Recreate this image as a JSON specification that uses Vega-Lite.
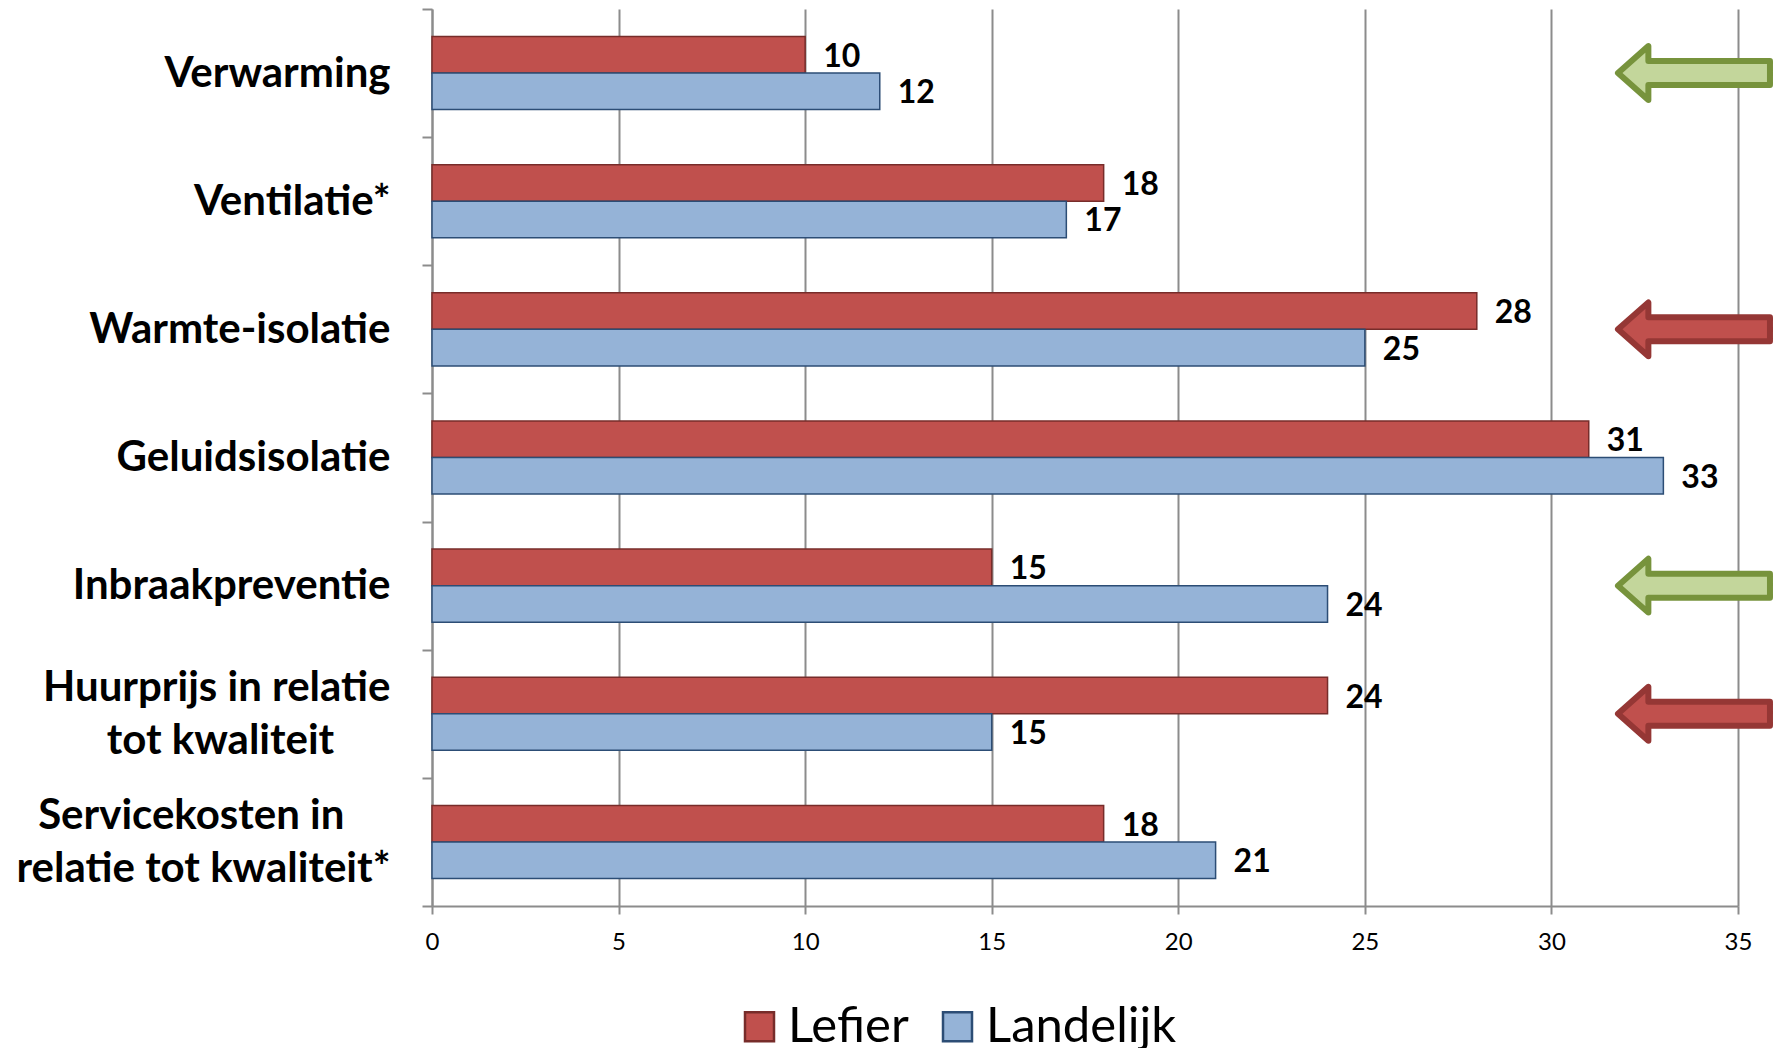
{
  "$schema": "https://vega.github.io/schema/vega-lite/v6.json",
  "autosize": "none",
  "width": 1306,
  "height": 897,
  "padding": {"left": 432, "top": 9, "right": 43, "bottom": 142},
  "background": "white",
  "datasets": {
    "bars": [
      {"thema": "Verwarming", "reeks": "Lefier", "score": 10},
      {"thema": "Verwarming", "reeks": "Landelijk", "score": 12},
      {"thema": "Ventilatie*", "reeks": "Lefier", "score": 18},
      {"thema": "Ventilatie*", "reeks": "Landelijk", "score": 17},
      {"thema": "Warmte-isolatie", "reeks": "Lefier", "score": 28},
      {"thema": "Warmte-isolatie", "reeks": "Landelijk", "score": 25},
      {"thema": "Geluidsisolatie", "reeks": "Lefier", "score": 31},
      {"thema": "Geluidsisolatie", "reeks": "Landelijk", "score": 33},
      {"thema": "Inbraakpreventie", "reeks": "Lefier", "score": 15},
      {"thema": "Inbraakpreventie", "reeks": "Landelijk", "score": 24},
      {"thema": "Huurprijs in relatie tot kwaliteit", "reeks": "Lefier", "score": 24},
      {"thema": "Huurprijs in relatie tot kwaliteit", "reeks": "Landelijk", "score": 15},
      {"thema": "Servicekosten in relatie tot kwaliteit*", "reeks": "Lefier", "score": 18},
      {"thema": "Servicekosten in relatie tot kwaliteit*", "reeks": "Landelijk", "score": 21}
    ],
    "pijlen": [
      {"thema": "Verwarming", "oordeel": "beter"},
      {"thema": "Warmte-isolatie", "oordeel": "slechter"},
      {"thema": "Inbraakpreventie", "oordeel": "beter"},
      {"thema": "Huurprijs in relatie tot kwaliteit", "oordeel": "slechter"}
    ]
  },
  "config": {
    "view": {"stroke": null},
    "font": "Lato"
  },
  "layer": [
    {
      "data": {"name": "bars"},
      "mark": {"type": "bar", "strokeWidth": 1.5},
      "encoding": {
        "y": {
          "field": "thema", "type": "nominal", "sort": null,
          "scale": {"paddingInner": 0, "paddingOuter": 0},
          "axis": {
            "title": null,
            "tickBand": "extent",
            "domainColor": "#8c8c8c", "domainWidth": 2,
            "tickColor": "#8c8c8c", "tickWidth": 2, "tickSize": 10,
            "labelFont": "Lato", "labelFontWeight": "bold", "labelFontSize": 42,
            "labelColor": "black",
            "labelLimit": 600,
            "labelLineHeight": 26.5,
            "labelBaseline": "middle",
            "labelOffset": -26.5,
            "labelAlign": "right",
            "labelPadding": 32,
            "labelExpr": "datum.value == 'Huurprijs in relatie tot kwaliteit' ? ['Huurprijs in relatie', '\u200b', 'tot kwaliteit\u00a0\u00a0\u00a0\u00a0\u00a0\u2009\u200b'] : datum.value == 'Servicekosten in relatie tot kwaliteit*' ? ['Servicekosten in\u00a0\u00a0\u00a0\u00a0\u2009\u200b', '\u200b', 'relatie tot kwaliteit*'] : ['', datum.label]"
          }
        },
        "yOffset": {
          "field": "reeks", "type": "nominal",
          "scale": {"domain": ["Lefier", "Landelijk"], "paddingInner": 0, "paddingOuter": 0.753}
        },
        "x": {
          "field": "score", "type": "quantitative",
          "scale": {"domain": [0, 35], "nice": false},
          "axis": {
            "title": null,
            "values": [0, 5, 10, 15, 20, 25, 30, 35],
            "grid": true, "gridColor": "#8c8c8c", "gridWidth": 2,
            "domainColor": "#8c8c8c", "domainWidth": 2,
            "tickColor": "#8c8c8c", "tickWidth": 2, "tickSize": 8,
            "labelFont": "Lato", "labelFontSize": 24, "labelColor": "black",
            "labelPadding": 16, "labelFlush": false
          }
        },
        "fill": {
          "field": "reeks", "type": "nominal",
          "scale": {"domain": ["Lefier", "Landelijk"], "range": ["#C0504D", "#95B3D7"]},
          "legend": {
            "title": null, "orient": "none", "direction": "horizontal",
            "legendX": 303, "legendY": 993,
            "symbolType": "square", "symbolSize": 841, "symbolStrokeWidth": 2.5,
            "labelFont": "Lato", "labelFontSize": 49, "labelColor": "black", "labelLimit": 600,
            "labelOffset": 4, "columnPadding": 24, "padding": 0
          }
        },
        "stroke": {
          "field": "reeks", "type": "nominal",
          "scale": {"domain": ["Lefier", "Landelijk"], "range": ["#772C2A", "#2C4D75"]},
          "legend": {
            "title": null, "orient": "none", "direction": "horizontal",
            "legendX": 303, "legendY": 993,
            "symbolType": "square", "symbolSize": 841, "symbolStrokeWidth": 2.5,
            "labelFont": "Lato", "labelFontSize": 49, "labelColor": "black", "labelLimit": 600,
            "labelOffset": 4, "columnPadding": 24, "padding": 0
          }
        }
      }
    },
    {
      "data": {"name": "bars"},
      "mark": {"type": "text", "align": "left", "baseline": "middle", "dx": 18, "dy": 2, "font": "Lato", "fontWeight": "bold", "fontSize": 32, "color": "black"},
      "encoding": {
        "y": {"field": "thema", "type": "nominal", "sort": null},
        "yOffset": {"field": "reeks", "type": "nominal"},
        "x": {"field": "score", "type": "quantitative"},
        "text": {"field": "score", "type": "quantitative"}
      }
    },
    {
      "data": {"name": "pijlen"},
      "transform": [{"filter": "datum.oordeel == 'beter'"}],
      "mark": {"type": "point", "filled": true, "shape": "M -1 0 L -0.6 -0.355 L -0.6 -0.158 L 1 -0.158 L 1 0.158 L -0.6 0.158 L -0.6 0.355 Z", "size": 23104, "fill": "#C3D69B", "stroke": "#77933C", "strokeWidth": 6, "strokeJoin": "round", "opacity": 1, "fillOpacity": 1},
      "encoding": {
        "y": {"field": "thema", "type": "nominal", "sort": null},
        "x": {"datum": 33.82, "type": "quantitative"}
      }
    },
    {
      "data": {"name": "pijlen"},
      "transform": [{"filter": "datum.oordeel == 'slechter'"}],
      "mark": {"type": "point", "filled": true, "shape": "M -1 0 L -0.6 -0.355 L -0.6 -0.158 L 1 -0.158 L 1 0.158 L -0.6 0.158 L -0.6 0.355 Z", "size": 23104, "fill": "#C0504D", "stroke": "#953735", "strokeWidth": 6, "strokeJoin": "round", "opacity": 1, "fillOpacity": 1},
      "encoding": {
        "y": {"field": "thema", "type": "nominal", "sort": null},
        "x": {"datum": 33.82, "type": "quantitative"}
      }
    }
  ]
}
